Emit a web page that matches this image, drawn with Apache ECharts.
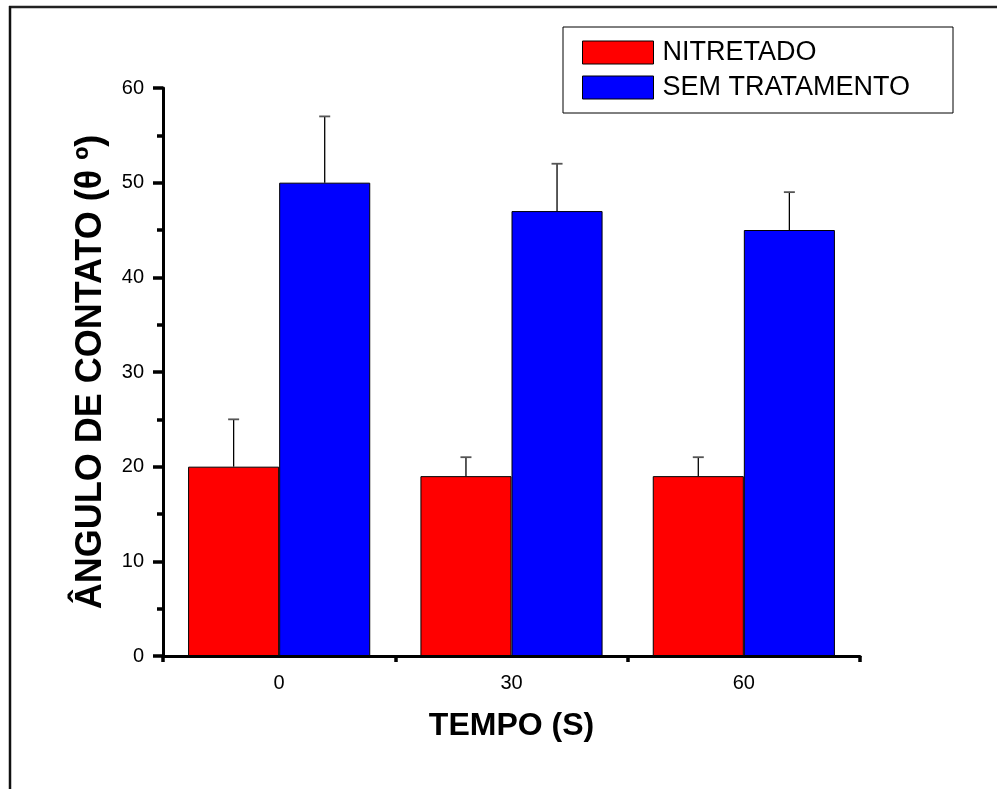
<!DOCTYPE html>
<html>
<head>
<meta charset="utf-8">
<script src="https://cdn.jsdelivr.net/npm/echarts@6/dist/echarts.min.js"></script>
<style>html,body{margin:0;padding:0;background:#fff}#c{width:997px;height:789px}</style>
</head>
<body>
<div id="c"></div>
<script>
var categories = ['0', '30', '60'];
var nitretado = [20, 19, 19];
var nitretadoErr = [5, 2, 2];
var semTratamento = [50, 47, 45];
var semTratamentoErr = [7, 5, 4];
var yTicks = [0, 10, 20, 30, 40, 50, 60];

var GAP = 0.216;
function errData(vals, errs) {
  return vals.map(function (v, i) { return [i, v, errs[i]]; });
}
function errRender(side) {
  return function (params, api) {
    var idx = api.value(0), v = api.value(1), e = api.value(2);
    var band = api.size([1, 0])[0];
    var barW = band * (1 - GAP) / 2;
    var p0 = api.coord([idx, v]);
    var p1 = api.coord([idx, v + e]);
    var x = p0[0] + side * barW / 2;
    var cap = 5.5;
    return {
      type: 'group',
      children: [
        { type: 'line', shape: { x1: x, y1: p0[1], x2: x, y2: p1[1] }, style: { stroke: '#000', lineWidth: 1.3 } },
        { type: 'line', shape: { x1: x - cap, y1: p1[1], x2: x + cap, y2: p1[1] }, style: { stroke: '#555', lineWidth: 1.8 } }
      ]
    };
  };
}

var chart = echarts.init(document.getElementById('c'), null, { renderer: 'canvas' });
var FONT = 'Liberation Sans, Arial, sans-serif';
chart.setOption({
  animation: false,
  backgroundColor: '#fff',
  textStyle: { fontFamily: FONT },
  graphic: [
    { type: 'line', shape: { x1: 9, y1: 7, x2: 997, y2: 7 }, style: { stroke: '#222', lineWidth: 2.5 } },
    { type: 'line', shape: { x1: 10, y1: 6, x2: 10, y2: 789 }, style: { stroke: '#111', lineWidth: 2.5 } }
  ],
  legend: {
    orient: 'vertical',
    left: 563, top: 27,
    padding: [12, 43, 12, 19],
    borderColor: '#000', borderWidth: 1,
    icon: 'rect',
    itemWidth: 71, itemHeight: 23, itemGap: 8,
    textStyle: { fontSize: 27, color: '#000', fontFamily: FONT, padding: [0, 0, 0, 4], lineHeight: 27 },
    itemStyle: { borderColor: '#000', borderWidth: 1 },
    data: ['NITRETADO', 'SEM TRATAMENTO']
  },
  grid: { left: 163, right: 137, top: 88, bottom: 133 },
  xAxis: [
    {
      type: 'category', data: categories, position: 'bottom',
      axisLine: { lineStyle: { color: '#000', width: 3 } },
      axisTick: { alignWithLabel: true, length: 11, lineStyle: { color: '#000', width: 3.5 } },
      axisLabel: { fontSize: 20, color: '#000', margin: 17, fontFamily: FONT },
      name: 'TEMPO (S)', nameLocation: 'middle', nameGap: 54,
      nameTextStyle: { fontSize: 32, fontWeight: 'bold', color: '#000', fontFamily: FONT }
    },
    {
      type: 'category', data: categories, position: 'bottom',
      axisLine: { show: false },
      axisTick: { show: true, length: 6, lineStyle: { color: '#000', width: 3.5 } },
      axisLabel: { show: false }
    }
  ],
  yAxis: {
    type: 'value', min: 0, max: 60, interval: 10,
    axisLine: { show: true, lineStyle: { color: '#000', width: 3 } },
    axisTick: { show: true, length: 10, lineStyle: { color: '#000', width: 3.5 } },
    minorTick: { show: true, splitNumber: 2, length: 6, lineStyle: { color: '#000', width: 3.5 } },
    splitLine: { show: false },
    axisLabel: { fontSize: 20, color: '#000', margin: 19, fontFamily: FONT,
      formatter: function (v) { return yTicks.indexOf(v) >= 0 ? String(v) : ''; } },
    name: 'ÂNGULO DE CONTATO (θ º)', nameLocation: 'middle', nameGap: 54,
    nameTextStyle: { fontSize: 36, fontWeight: 'bold', color: '#000', fontFamily: FONT }
  },
  series: [
    {
      name: 'NITRETADO', type: 'bar', data: nitretado, barGap: '0%', barCategoryGap: (GAP * 100) + '%',
      itemStyle: { color: '#ff0000', borderColor: '#000', borderWidth: 1 }, z: 3
    },
    {
      name: 'SEM TRATAMENTO', type: 'bar', data: semTratamento, barGap: '0%', barCategoryGap: (GAP * 100) + '%',
      itemStyle: { color: '#0000ff', borderColor: '#000', borderWidth: 1 }, z: 3
    },
    {
      type: 'custom', renderItem: errRender(-1), data: errData(nitretado, nitretadoErr),
      encode: { x: 0, y: [1, 2] }, z: 4, silent: true
    },
    {
      type: 'custom', renderItem: errRender(1), data: errData(semTratamento, semTratamentoErr),
      encode: { x: 0, y: [1, 2] }, z: 4, silent: true
    }
  ]
});
</script>
</body>
</html>
